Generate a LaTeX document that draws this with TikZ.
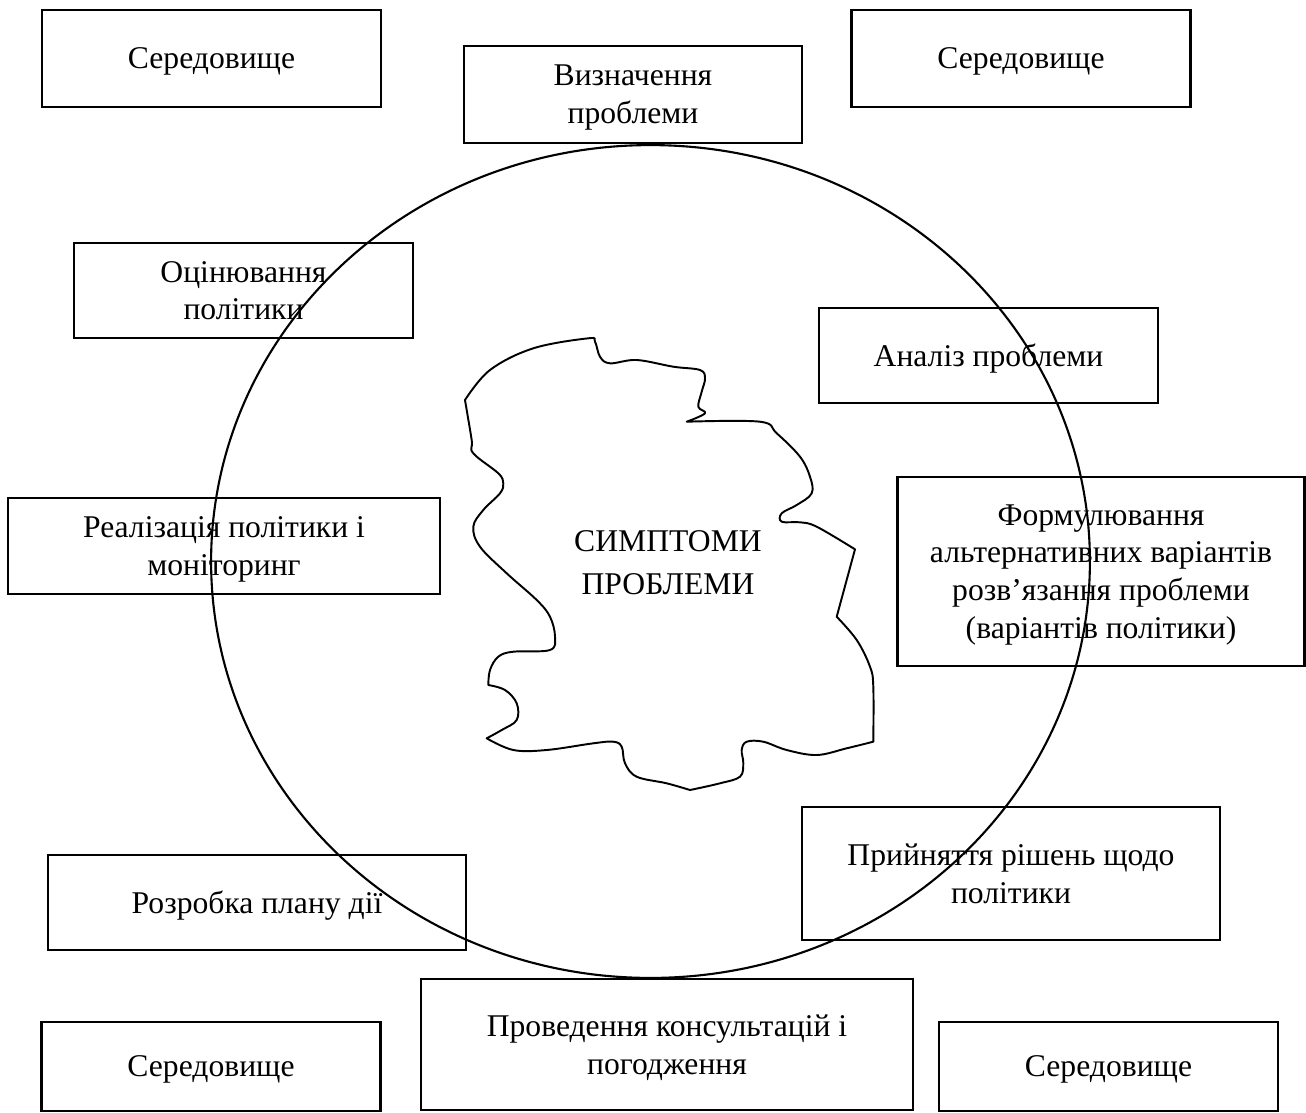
\documentclass[tikz,border=0pt]{standalone}
\usepackage{fontspec}
\setmainfont{Liberation Serif}
\usetikzlibrary{positioning}

\begin{document}
\begin{tikzpicture}[
  x=0.02cm, y=-0.02cm,
  box/.style={draw, line width=1.5pt, align=center, inner sep=0pt, text depth=0pt,
    font=\fontsize{18}{21.5}\selectfont},
  envbox/.style={box, minimum width=6.78cm, minimum height=1.94cm},
  ring/.style={line width=1.2pt},
  blob/.style={line width=1.1pt, line join=round}
]
\useasboundingbox (0,0) rectangle (1306,1113);

\node[envbox] (envtl) at (211.5,58.5) {Середовище};
\node[envbox] (envtr) at (1021,58.5) {Середовище};
\node[box, minimum width=6.76cm, minimum height=1.94cm] (define) at (633,94.5) {Визначення\\проблеми};
\node[box, minimum width=6.78cm, minimum height=1.90cm] (evaluate) at (243.5,290.5) {Оцінювання\\політики};
\node[box, minimum width=6.78cm, minimum height=1.90cm] (analyse) at (988.5,355.5) {Аналіз проблеми};
\node[box, minimum width=8.64cm, minimum height=1.92cm] (implement) at (224,546) {Реалізація політики і\\моніторинг};
\node[box, minimum width=8.13cm, minimum height=3.78cm] (options) at (1101,571.5) {Формулювання\\альтернативних варіантів\\розв’язання проблеми\\(варіантів політики)};
\node[box, minimum width=8.36cm, minimum height=1.90cm] (plan) at (257,902.5) {Розробка плану дії};
\node[box, minimum width=8.36cm, minimum height=2.66cm] (decide) at (1011,873.5) {Прийняття рішень щодо\\політики};
\node[box, minimum width=9.84cm, minimum height=2.62cm] (consult) at (667,1044.5) {Проведення консультацій і\\погодження};
\node[envbox, minimum height=1.78cm] (envbl) at (211,1066.5) {Середовище};
\node[envbox, minimum height=1.78cm] (envbr) at (1108.5,1066.5) {Середовище};

\draw[ring] (650.5,561.5) ellipse [x radius=8.79cm, y radius=8.33cm];

\draw[blob] plot[smooth, tension=0.6] coordinates {(465,400) (490,370) (533.3,348.3) (588.3,338.3) (595,341.7) (600,356.7) (610,363.3) (636.7,360) (673.3,366.7) (700,370) (705,378.3) (701.7,391.7) (698.3,406.7) (705,413.3) (686.7,421.7)}
  -- plot[smooth, tension=0.6] coordinates {(686.7,421.7) (760,421.7) (776.7,433.3) (800,456.7) (810,476.7) (811.7,493.3) (796.7,505) (781.7,513.3) (781.7,521.7) (800,522.3) (816.7,526.7) (855,549.3)}
  -- (836.7,616.7)
  -- plot[smooth, tension=0.6] coordinates {(836.7,616.7) (856.7,640) (870,666.7) (873.3,686.7) (873.3,741.7)}
  -- plot[smooth, tension=0.6] coordinates {(873.3,741.7) (846.7,748.3) (816.7,755) (786.7,750) (763.3,741.7) (746.7,741.7) (741.7,750) (743.3,763.3) (740,776.7) (720,783.3) (690,790)}
  -- plot[smooth, tension=0.6] coordinates {(690,790) (666.7,783.3) (636.7,776.7) (625,763.3) (621.7,746.7) (613.3,741.7) (593.3,743.3) (546.7,750) (513.3,750) (486.7,738.3)}
  -- plot[smooth, tension=0.6] coordinates {(486.7,738.3) (501.7,730) (516.7,720) (516.7,703.3) (505,690) (488.3,685)}
  -- plot[smooth, tension=0.6] coordinates {(488.3,685) (490,670) (498.3,656.7) (513.3,651.7) (550,650) (555,636.7) (550,616.7) (536.7,600) (506.7,573.3) (480,546.7) (473.3,526.7) (483.3,510) (500,493.3) (503.3,483.3) (498.3,473.3) (473.3,453.3) (471.7,440) (465,400)}
  -- cycle;

\node[align=center, font=\fontsize{18}{24.5}\selectfont] (symptoms) at (668,563) {СИМПТОМИ\\ПРОБЛЕМИ};
\end{tikzpicture}
\end{document}
